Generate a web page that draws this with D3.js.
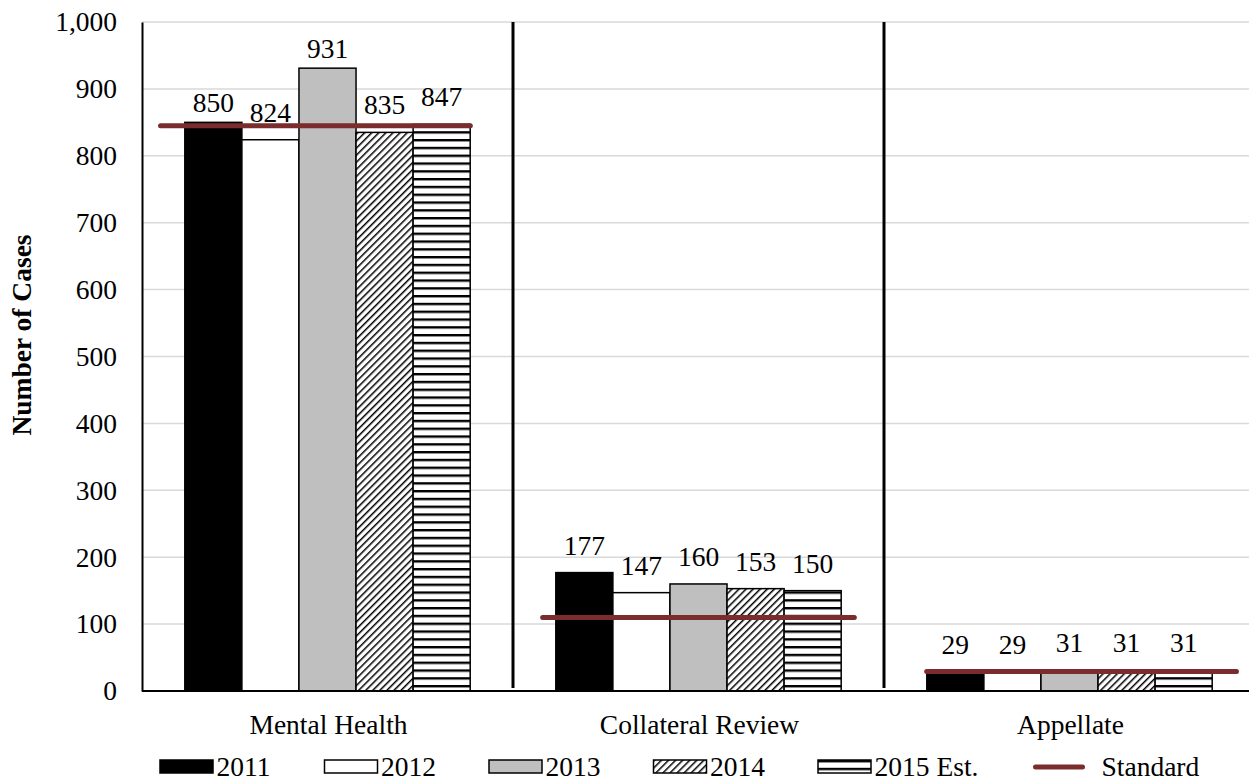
<!DOCTYPE html>
<html lang='en'>
<head>
   <meta charset='UTF-8'>
   <title>Number of Cases</title>
   <script src='https://d3js.org/d3.v7.min.js'></script>
   <style>
      body { margin: 0; background: #fff; }
      svg { display: block; }
      svg text { font-family: 'Liberation Serif', 'Times New Roman', serif; }
   </style>
</head>
<body>
   <div id='chart'></div>
   <script>
      const categories = ['Mental Health', 'Collateral Review', 'Appellate'];
      const seriesNames = ['2011', '2012', '2013', '2014', '2015 Est.'];
      const values = {
         '2011': [850, 177, 29],
         '2012': [824, 147, 29],
         '2013': [931, 160, 31],
         '2014': [835, 153, 31],
         '2015 Est.': [847, 150, 31]
      };
      const standard = [845, 110, 29];
      // line span of each standard segment, in category units (0..3)
      const standardFrom = [0.05, 1.08, 2.115];
      const standardTo = [0.885, 1.92, 2.95];
      const yTicks = [0, 100, 200, 300, 400, 500, 600, 700, 800, 900, 1000];

      const W = 1249, H = 780;
      const m = { top: 22, right: -6, bottom: 89, left: 142 };
      const width = W - m.left - m.right;
      const height = H - m.top - m.bottom;
      const fs = 27.5;

      // labels that were dragged closer to their bar in the original
      const labelGap = d => (d.s === '2011' || d.s === '2013') && d.v > 800 ? 10 : 18;

      const svg = d3.select('#chart').append('svg').attr('width', W).attr('height', H);
      const defs = svg.append('defs');

      const diag = defs.append('pattern').attr('id', 'diag')
         .attr('patternUnits', 'userSpaceOnUse').attr('width', 5).attr('height', 5)
         .attr('patternTransform', 'rotate(45)');
      diag.append('rect').attr('width', 5).attr('height', 5).attr('fill', '#fff');
      diag.append('rect').attr('width', 1.5).attr('height', 5).attr('fill', '#000');

      const horiz = defs.append('pattern').attr('id', 'horiz')
         .attr('patternUnits', 'userSpaceOnUse').attr('width', 8).attr('height', 7.8);
      horiz.append('rect').attr('width', 8).attr('height', 7.8).attr('fill', '#fff');
      horiz.append('rect').attr('y', 0).attr('width', 8).attr('height', 2.4).attr('fill', '#000');

      const fills = {
         '2011': '#000', '2012': '#fff', '2013': '#bfbfbf',
         '2014': 'url(#diag)', '2015 Est.': 'url(#horiz)'
      };

      const g = svg.append('g').attr('transform', `translate(${m.left},${m.top})`);

      const x0 = d3.scaleBand().domain(categories).range([0, width]).padding(0);
      const x1 = d3.scaleBand().domain(seriesNames).range([0, x0.bandwidth()])
         .paddingInner(0).paddingOuter(0.75);
      const xc = d3.scaleLinear().domain([0, 3]).range([0, width]);
      const y = d3.scaleLinear().domain([0, 1000]).range([height, 0]);

      // gridlines
      g.append('g').selectAll('line').data(yTicks.slice(1)).join('line')
         .attr('x1', 0).attr('x2', width)
         .attr('y1', d => y(d)).attr('y2', d => y(d))
         .attr('stroke', '#d9d9d9').attr('stroke-width', 1.5);

      // y axis
      const yAxis = g.append('g').call(d3.axisLeft(y).tickValues(yTicks)
         .tickFormat(d3.format(',')).tickSize(0).tickPadding(25));
      yAxis.select('.domain').attr('stroke', '#000').attr('stroke-width', 2);
      yAxis.selectAll('text').attr('font-size', fs).attr('fill', '#000');

      // category separators
      g.append('g').selectAll('line').data(categories.slice(1)).join('line')
         .attr('x1', d => x0(d)).attr('x2', d => x0(d))
         .attr('y1', 0).attr('y2', height - 3)
         .attr('stroke', '#000').attr('stroke-width', 3);

      // bars
      const groups = g.append('g').selectAll('g').data(categories).join('g')
         .attr('transform', d => `translate(${x0(d)},0)`);
      groups.selectAll('rect')
         .data((c, ci) => seriesNames.map(s => ({ s, v: values[s][ci] })))
         .join('rect')
         .attr('x', d => x1(d.s)).attr('width', x1.bandwidth())
         .attr('y', d => y(d.v)).attr('height', d => height - y(d.v))
         .attr('fill', d => fills[d.s])
         .attr('stroke', '#000').attr('stroke-width', 1.5);
      groups.selectAll('text')
         .data((c, ci) => seriesNames.map(s => ({ s, v: values[s][ci] })))
         .join('text')
         .attr('x', d => x1(d.s) + x1.bandwidth() / 2)
         .attr('y', d => y(d.v) - labelGap(d))
         .attr('text-anchor', 'middle').attr('font-size', fs).attr('fill', '#000')
         .text(d => d.v);

      // x axis line
      g.append('line').attr('x1', 0).attr('x2', W - m.left)
         .attr('y1', height).attr('y2', height)
         .attr('stroke', '#000').attr('stroke-width', 2);

      // category labels
      g.append('g').selectAll('text').data(categories).join('text')
         .attr('x', d => x0(d) + x0.bandwidth() / 2 + 1)
         .attr('y', height + 43)
         .attr('text-anchor', 'middle').attr('font-size', fs).attr('fill', '#000')
         .text(d => d);

      // standard segments
      g.append('g').selectAll('line').data(standard).join('line')
         .attr('x1', (d, i) => xc(standardFrom[i])).attr('x2', (d, i) => xc(standardTo[i]))
         .attr('y1', d => y(d)).attr('y2', d => y(d))
         .attr('stroke', '#7b2c2c').attr('stroke-width', 5).attr('stroke-linecap', 'round');

      // y label
      svg.append('text')
         .attr('transform', 'translate(31, 335) rotate(-90)')
         .attr('text-anchor', 'middle').attr('font-size', fs).attr('font-weight', 'bold')
         .text('Number of Cases');

      // legend
      const legend = svg.append('g').attr('transform', 'translate(160, 760)');
      const step = 164.5;
      seriesNames.forEach((s, i) => {
         const lg = legend.append('g').attr('transform', `translate(${i * step},0)`);
         lg.append('rect').attr('width', 53).attr('height', 13)
            .attr('fill', fills[s]).attr('stroke', '#000').attr('stroke-width', 1.5);
         lg.append('text').attr('x', 56.5).attr('y', 16).attr('font-size', fs).text(s);
      });
      const ls = legend.append('g').attr('transform', `translate(${5 * step + 53},0)`);
      ls.append('line').attr('x1', 0).attr('x2', 47).attr('y1', 7).attr('y2', 7)
         .attr('stroke', '#7b2c2c').attr('stroke-width', 5).attr('stroke-linecap', 'round');
      ls.append('text').attr('x', 66).attr('y', 16).attr('font-size', fs).text('Standard');
   </script>
</body>
</html>
